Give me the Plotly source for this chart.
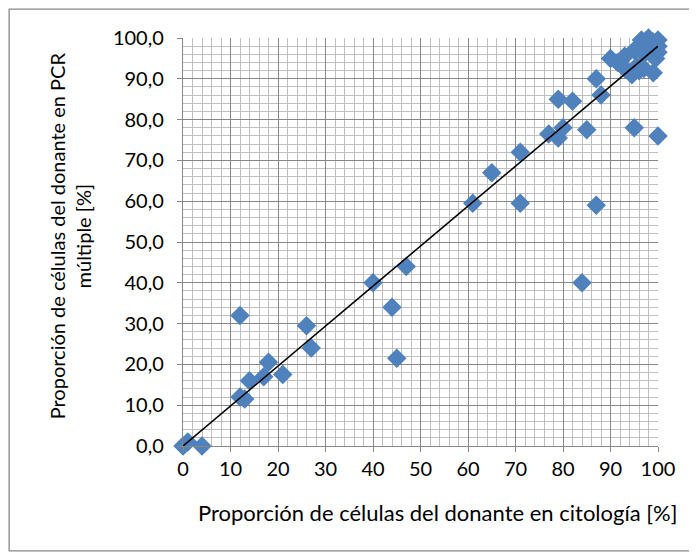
import plotly.graph_objects as go

citologia = [0, 1, 4, 12, 13, 14, 17, 18, 21, 26, 27, 12, 40, 44, 45, 47,
             61, 65, 71, 71, 77, 79, 79, 80, 82, 85, 84, 87,
             87, 88, 90, 91.5, 93, 94.5, 95, 100,
             95, 95.5, 96, 96.5, 97, 97, 98, 99, 99.5, 100, 100, 93, 96, 98, 99, 100]
pcr = [0, 1, 0, 12, 11.5, 16, 17, 20.5, 17.5, 29.5, 24, 32, 40, 34, 21.5, 44,
       59.5, 67, 72, 59.5, 76.5, 75.5, 85, 78, 84.5, 77.5, 40, 59,
       90, 86, 95, 94, 92.5, 91, 78, 76,
       97, 93, 92, 99.5, 96, 92.5, 100, 91.5, 95, 96.5, 99.5, 95.5, 97.5, 98.5, 99, 98]

trend_x = [0, 100]
trend_y = [0, 98]

x_title = "Proporción de células del donante en citología [%]"
y_title = "Proporción de células del donante en PCR<br>múltiple [%]"

FONT = "Lato"
fig = go.Figure()
fig.add_trace(go.Scatter(x=citologia, y=pcr, mode="markers",
                         marker=dict(symbol="diamond", size=15, color="#4F81BD"),
                         cliponaxis=False, showlegend=False))
fig.add_trace(go.Scatter(x=trend_x, y=trend_y, mode="lines",
                         line=dict(color="black", width=1.6),
                         cliponaxis=False, showlegend=False))

axis_common = dict(
    showgrid=True, gridcolor="#878787", gridwidth=1.3,
    minor=dict(dtick=2, showgrid=True, gridcolor="#BFBFBF", gridwidth=1.3),
    showline=True, linecolor="#878787", linewidth=1.3,
    ticks="outside", ticklen=5, tickcolor="#878787",
    zeroline=False, automargin=False,
    tickfont=dict(family=FONT, size=20, color="black"),
)

fig.update_xaxes(range=[0, 100], dtick=10, tick0=0, **axis_common)
fig.update_yaxes(range=[0, 100], dtick=10, tick0=0, tickformat=".1f",
                 ticklabelstandoff=9, **axis_common)

fig.update_layout(
    width=689, height=548,
    margin=dict(l=175, r=39, t=30, b=110),
    plot_bgcolor="white", paper_bgcolor="white",
    separators=",.",
    font=dict(family=FONT),
    shapes=[dict(type="rect", xref="paper", yref="paper",
                 x0=-0.366, x1=1.069, y0=-0.257, y1=1.071,
                 line=dict(color="#878787", width=1.3), layer="below")],
    annotations=[
        dict(text=x_title, xref="paper", yref="paper", x=0.536, y=-0.162,
             xanchor="center", yanchor="middle", showarrow=False,
             font=dict(family=FONT, size=22, color="black")),
        dict(text=y_title, xref="paper", yref="paper", x=-0.239, y=0.515,
             xanchor="center", yanchor="middle", showarrow=False, textangle=-90,
             font=dict(family=FONT, size=20, color="black")),
    ],
)

fig.write_html("out.html")
